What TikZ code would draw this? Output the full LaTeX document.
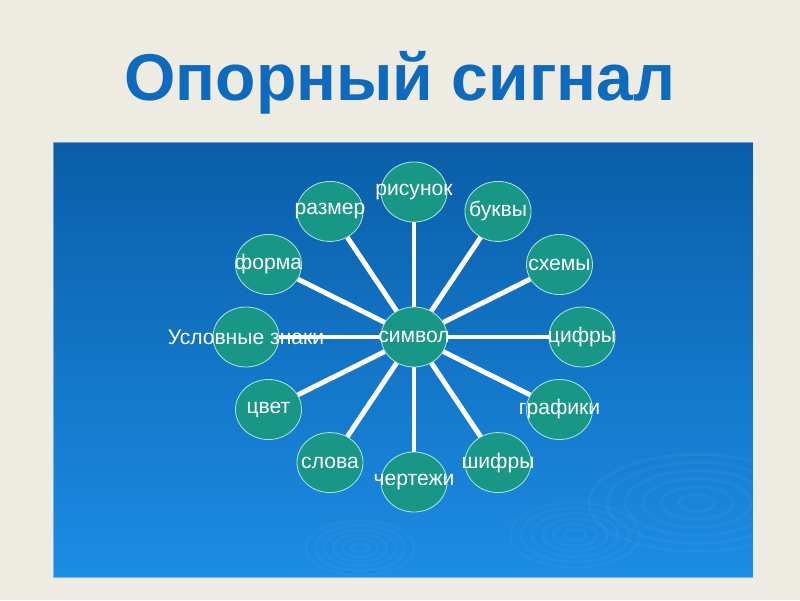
\documentclass[tikz,border=0pt]{standalone}
\usepackage{fontspec}
\setmainfont{Liberation Sans}
\usetikzlibrary{shapes.geometric}

\definecolor{pagecol}{RGB}{238,235,226}
\definecolor{titlecol}{RGB}{14,106,188}
\definecolor{paneltop}{RGB}{10,94,168}
\definecolor{panelbot}{RGB}{28,140,228}
\definecolor{bubblecol}{RGB}{24,150,134}
\definecolor{rimcol}{RGB}{170,225,220}

\begin{document}
\begin{tikzpicture}[x=0.025cm, y=-0.025cm
	,bubble/.style={
		ellipse
		,draw=rimcol
		,line width=0.6pt
		,fill=bubblecol
		,minimum width=1.65cm
		,minimum height=1.5cm
		,inner sep=0
	}
	,lbl/.style={text=white, font=\fontsize{15}{15}\selectfont, inner sep=0}
	,spoke/.style={draw=white, line width=3.5pt}
]

\fill[pagecol] (0,0) rectangle (800,600);
\useasboundingbox (0,0) rectangle (800,600);

\node[font=\bfseries\fontsize{47}{47}\selectfont, text=titlecol, anchor=base](title) at(400,100) {Опорный сигнал};

\shade[top color=paneltop, bottom color=panelbot] (53,142) rectangle (753,577);
\begin{scope}
\clip (53,142) rectangle (753,577);
\foreach \r in {18,36,...,108}{
	\draw[white, opacity=0.04, line width=2pt] (697,503) ellipse ({\r} and {\r*0.45});
	\draw[white, opacity=0.03, line width=2pt] (575,535) ellipse ({\r*0.6} and {\r*0.3});
	\draw[white, opacity=0.03, line width=2pt] (360,548) ellipse ({\r*0.5} and {\r*0.25});
}
\end{scope}
\draw[white, opacity=0.4, line width=0.6pt] (53,142) rectangle (753,577);

\node[bubble](sym) at(414,337) {};
\node[lbl] at(sym) {символ};

\foreach \i/\ang/\txt in {
	1/0/цифры,2/30/схемы,3/60/буквы%
	,4/90/рисунок,5/120/размер,6/150/форма%
	,7/180/Условные знаки,8/210/цвет,9/240/слова%
	,10/270/чертежи,11/300/шифры,12/330/графики%
}{
	\node[bubble](n\i) at({414+168*cos(\ang)},{337-145*sin(\ang)}) {};
	\node[lbl] at(n\i) {\txt};
}

\foreach \i in {1,...,12}{
	\draw[spoke] (sym) -- (n\i);
}

\end{tikzpicture}
\end{document}
